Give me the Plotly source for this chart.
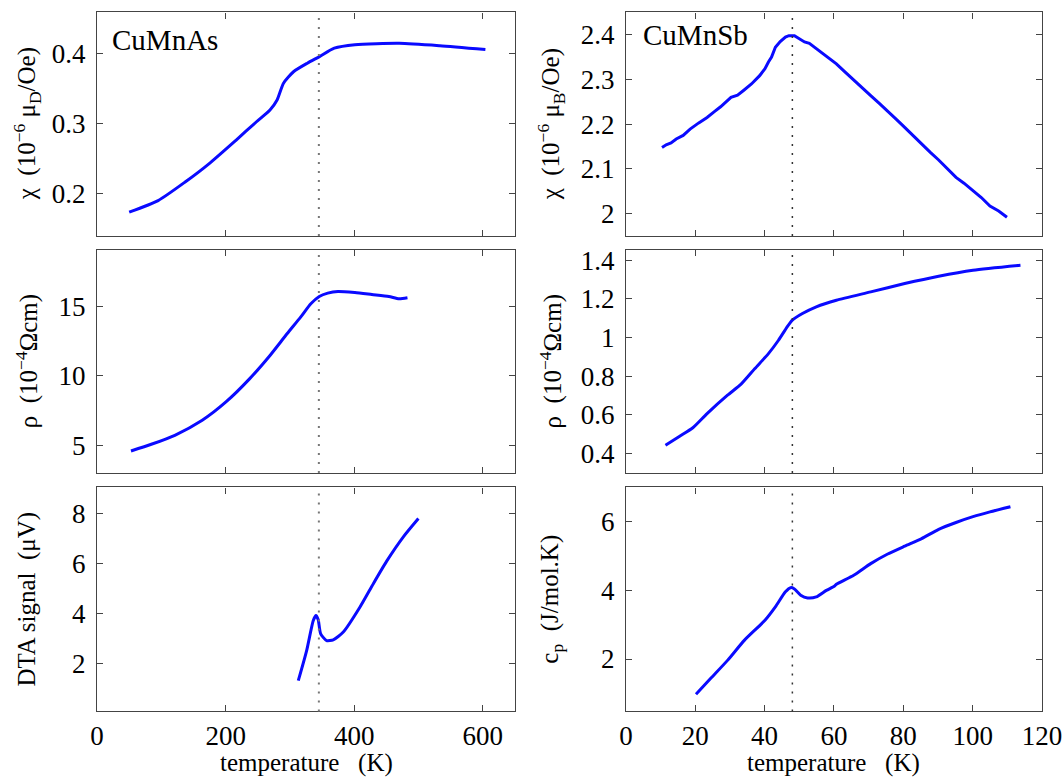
import plotly.graph_objects as go
from plotly.subplots import make_subplots

# CuMnAs susceptibility
t_as_chi = [50, 95, 137, 174, 216, 248, 269, 280, 290, 306, 327, 346, 369, 401, 470, 533, 604]
chi_as = [0.173, 0.1895, 0.216, 0.242, 0.2756, 0.302, 0.3187, 0.333, 0.357, 0.3737,
          0.3856, 0.395, 0.407, 0.412, 0.414, 0.4105, 0.405]

# CuMnSb susceptibility
t_sb_chi = [10.4, 11.6, 13.0, 14.5, 16.5, 18.5, 21.0, 23.4, 25.5, 27.3, 30.3, 32.2, 34.0, 36.2,
            38.5, 40.1, 41.1, 42.0, 43.1, 44.5, 46.0, 47.0, 48.6, 49.9, 51.5, 52.9, 54.8, 56.8,
            58.5, 60.7, 63.0, 65.7, 68.0, 70.6, 73.0, 75.5, 78.0, 80.4, 83.0, 85.3, 87.8, 90.2,
            92.5, 95.2, 97.5, 100.1, 102.5, 105.0, 107.5, 109.9]
chi_sb = [2.148, 2.154, 2.158, 2.167, 2.175, 2.189, 2.203, 2.215, 2.228, 2.239, 2.260, 2.265,
          2.276, 2.290, 2.308, 2.324, 2.339, 2.350, 2.372, 2.385, 2.395, 2.398, 2.398, 2.391,
          2.384, 2.381, 2.370, 2.357, 2.348, 2.335, 2.318, 2.298, 2.282, 2.264, 2.247, 2.230,
          2.211, 2.193, 2.173, 2.156, 2.137, 2.120, 2.101, 2.081, 2.068, 2.051, 2.036, 2.017,
          2.006, 1.992]

# resistivity
t_as_rho = [52.8, 84.4, 121, 163.6, 200.5, 237.5, 269, 295.5, 316.6, 332.5, 345.6, 358.8,
            374.7, 401, 427.4, 453.8, 469.7, 482.8]
rho_as = [4.59, 5.07, 5.72, 6.80, 8.12, 9.80, 11.47, 13.03, 14.23, 15.19, 15.72, 15.96,
          16.08, 16.0, 15.86, 15.72, 15.55, 15.62]
t_sb_rho = [11.4, 15.5, 19.3, 23.4, 29.3, 33.2, 37.2, 41.1, 44.0, 46.5, 48.0, 50.9, 54.9,
            60.7, 70.6, 80.4, 90.2, 100.1, 113.8]
rho_sb = [0.443, 0.490, 0.534, 0.607, 0.702, 0.759, 0.840, 0.917, 0.986, 1.055, 1.090, 1.124,
          1.159, 1.193, 1.236, 1.279, 1.317, 1.348, 1.374]

# DTA signal (CuMnAs) and specific heat (CuMnSb)
t_as_dta = [313, 326, 336.3, 340.5, 344, 347.8, 357, 367.4, 383, 409, 429.7, 450.5, 476.4, 499.8]
dta_as = [1.33, 2.53, 3.73, 3.93, 3.76, 3.2, 2.93, 2.96, 3.27, 4.27, 5.2, 6.1, 7.07, 7.8]
t_sb_cp = [20.2, 24.4, 29.3, 34.2, 40.1, 43.1, 46.0, 47.5, 48.5, 50.4, 52.4, 54.9, 57.8, 60.1,
           60.7, 65.7, 70.6, 75.5, 80.4, 85.3, 90.2, 95.2, 100.1, 105.0, 110.9]
cp_sb = [0.97, 1.43, 1.96, 2.55, 3.13, 3.52, 3.96, 4.08, 4.05, 3.86, 3.78, 3.81, 4.0, 4.12,
         4.18, 4.44, 4.78, 5.06, 5.29, 5.51, 5.78, 5.98, 6.15, 6.29, 6.44]

t_neel_as = 345
t_neel_sb = 48

x_ticks_as = [0, 200, 400, 600]
x_ticks_sb = [0, 20, 40, 60, 80, 100, 120]

FONT = "Liberation Serif"
LINE = "#444444"
BLUE = "#0a0aff"

fig = make_subplots(rows=3, cols=2)

panels = [
    (1, 1, t_as_chi, chi_as, [0.139, 0.458], [0.2, 0.3, 0.4], "spline"),
    (1, 2, t_sb_chi, chi_sb, [1.95, 2.45], [2, 2.1, 2.2, 2.3, 2.4], "linear"),
    (2, 1, t_as_rho, rho_as, [3.0, 19.1], [5, 10, 15], "spline"),
    (2, 2, t_sb_rho, rho_sb, [0.3, 1.455], [0.4, 0.6, 0.8, 1, 1.2, 1.4], "spline"),
    (3, 1, t_as_dta, dta_as, [0.1, 9.04], [2, 4, 6, 8], "spline"),
    (3, 2, t_sb_cp, cp_sb, [0.47, 7.0], [2, 4, 6], "spline"),
]

x_dom = {1: [0.0912, 0.484], 2: [0.5883, 0.9793]}
y_dom = {1: [0.6967, 0.984], 2: [0.392, 0.6793], 3: [0.0855, 0.3734]}

axis_style = dict(
    showline=True, mirror="ticks", ticks="inside", ticklen=6, tickwidth=1.2,
    linecolor=LINE, linewidth=1.3, tickcolor=LINE, showgrid=False, zeroline=False,
    automargin=False,
    tickfont=dict(family=FONT, size=27, color="black"),
)

for row, col, xs, ys, yr, yt, shape in panels:
    fig.add_trace(
        go.Scatter(x=xs, y=ys, mode="lines",
                   line=dict(color=BLUE, width=3, shape=shape, smoothing=0.6)),
        row=row, col=col,
    )
    fig.update_yaxes(range=yr, tickvals=yt, domain=y_dom[row], ticklabelstandoff=5,
                     **axis_style, row=row, col=col)
    if col == 1:
        fig.update_xaxes(range=[0, 650], tickvals=x_ticks_as, row=row, col=col)
        t_neel, dot_color, dot_w = t_neel_as, "#777777", 2
    else:
        fig.update_xaxes(range=[0, 120], tickvals=x_ticks_sb, row=row, col=col)
        t_neel, dot_color, dot_w = t_neel_sb, "#333333", 1.5
    fig.update_xaxes(domain=x_dom[col], showticklabels=(row == 3), ticklabelstandoff=0,
                     **axis_style, row=row, col=col)
    fig.add_vline(x=t_neel, line=dict(color=dot_color, width=dot_w, dash="2px,7px"),
                  row=row, col=col)

title_font = dict(family=FONT, size=25, color="black")

for col in (1, 2):
    fig.add_annotation(text="temperature\u00a0\u00a0\u00a0(K)", xref="paper", yref="paper",
                       x=sum(x_dom[col]) / 2, y=0.019, xanchor="center", yanchor="middle",
                       showarrow=False, font=title_font)

y_titles = [
    (1, 1, "χ\u00a0\u00a0(10<sup>−6</sup>\u00a0μ<sub>D</sub>/Oe)"),
    (1, 2, "χ\u00a0\u00a0(10<sup>−6</sup>\u00a0μ<sub>B</sub>/Oe)"),
    (2, 1, "ρ\u00a0\u00a0(10<sup>−4</sup>Ωcm)"),
    (2, 2, "ρ\u00a0\u00a0(10<sup>−4</sup>Ωcm)"),
    (3, 1, "DTA signal\u00a0\u00a0(μV)"),
    (3, 2, "c<sub>p</sub>\u00a0\u00a0(J/mol.K)"),
]
title_x = {1: 0.0254, 2: 0.518}
for row, col, text in y_titles:
    fig.add_annotation(
        text=text, xref="paper", yref="paper", x=title_x[col],
        y=sum(y_dom[row]) / 2, textangle=-90, showarrow=False,
        xanchor="center", yanchor="middle", font=title_font,
    )

fig.add_annotation(text="CuMnAs", xref="x domain", yref="y domain", x=0.03, y=0.875,
                   xanchor="left", yanchor="middle", showarrow=False,
                   font=dict(family=FONT, size=29, color="black"))
fig.add_annotation(text="CuMnSb", xref="x2 domain", yref="y2 domain", x=0.036, y=0.9,
                   xanchor="left", yanchor="middle", showarrow=False,
                   font=dict(family=FONT, size=29, color="black"))

fig.update_layout(
    width=1064, height=778,
    margin=dict(l=0, r=0, t=0, b=0),
    showlegend=False,
    plot_bgcolor="white", paper_bgcolor="white",
)

# the page's default body margin would shift the figure by 8px
fig.write_html("out.html", config={"displayModeBar": False},
               post_script="document.body.style.margin='0';")
